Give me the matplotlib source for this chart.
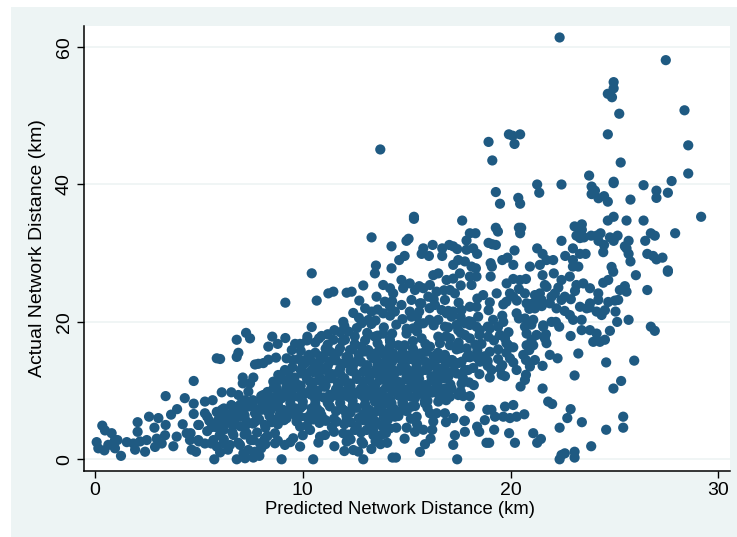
# predicted vs actual network distance
import numpy as np
import matplotlib
matplotlib.use('Agg')
import matplotlib.pyplot as plt

plt.rcParams['font.family'] = ['Liberation Sans', 'DejaVu Sans']

# upper right, sparse part
pred_top = [22.36, 27.47, 24.96, 24.96, 24.68, 24.88, 25.23, 28.37, 24.68, 28.55, 25.3, 28.55, 27.75, 18.94, 19.92, 20.1, 20.46, 20.19, 19.12, 13.73,
            23.78, 23.9, 24.06, 23.9, 24.23, 24.5, 24.68, 24.96, 24.96, 25.77, 26.4, 27.02, 27.02, 27.57, 29.17, 22.45, 21.28, 21.38, 19.29, 19.49,
            20.37, 20.46, 15.35, 15.35, 17.67, 13.31, 14.27, 14.99, 15.09, 19.29, 19.39, 20.51, 20.4, 20.46, 18.04, 18.31, 17.88, 18.94, 19.12, 19.29,
            20.19, 21.28, 22.45, 23.08, 23.43, 23.43, 23.17, 23.34, 23.53, 23.88, 24.14, 24.33, 24.23, 24.5, 24.46, 24.68, 24.96, 25.58, 26.4, 26.75,
            26.94, 27.92, 26.48, 24.78, 25.15, 24.96, 25.68, 25.5, 25.58, 25.68, 25.77, 26.58, 26.86, 27.02, 27.31, 27.57, 23.0, 22.63, 23.0, 23.34,
            23.61, 23.0, 23.26, 24.86, 22.05, 21.73, 21.54, 21.41, 20.93, 20.13, 19.85, 19.6, 19.04, 19.1, 18.39, 18.2, 17.88, 17.8, 17.48, 17.24,
            18.12, 18.33, 17.05, 17.24, 17.43, 16.71, 16.71, 16.25, 15.8, 15.72, 16.07, 14.9, 14.64, 14.27, 13.52]
actual_top = [61.4, 58.1, 54.9, 54.0, 53.2, 52.7, 50.3, 50.8, 47.3, 45.7, 43.2, 41.6, 40.5, 46.2, 47.3, 47.1, 47.3, 45.9, 43.5, 45.1,
              41.3, 39.7, 39.1, 38.6, 38.0, 38.3, 37.5, 40.4, 40.2, 37.8, 39.9, 39.1, 38.05, 38.8, 35.3, 40.0, 40.0, 38.8, 38.9, 37.2,
              38.05, 37.2, 35.3, 35.0, 34.75, 32.3, 31.0, 31.8, 32.1, 33.7, 33.15, 33.7, 33.7, 32.9, 32.9, 32.9, 31.85, 31.5, 31.3, 31.2,
              30.4, 30.7, 31.8, 33.9, 34.2, 33.4, 32.55, 32.2, 32.3, 32.55, 32.55, 32.9, 31.8, 31.2, 30.15, 34.75, 35.3, 34.75, 34.75, 32.9,
              32.55, 32.9, 31.8, 32.3, 32.55, 31.8, 31.8, 31.0, 30.7, 29.9, 28.8, 29.9, 29.6, 29.1, 29.35, 27.5, 30.7, 29.6, 29.0, 29.9,
              29.9, 28.05, 28.05, 28.0, 29.0, 29.0, 29.9, 28.3, 28.05, 28.3, 29.35, 29.0, 28.55, 28.05, 29.9, 30.7, 30.5, 28.8, 29.0, 28.3,
              28.05, 27.8, 31.2, 31.0, 30.6, 30.7, 29.6, 31.2, 30.7, 29.9, 29.6, 29.6, 29.0, 27.8, 28.2]

# lower right
pred_right = [16.28, 16.52, 17.56, 18.04, 18.36, 19.04, 20.13, 20.45, 20.74, 21.54, 22.08, 22.45, 22.85, 23.17, 23.5, 23.82, 24.7, 24.46, 24.94, 26.03,
              27.57, 26.58, 25.5, 25.26, 25.58, 25.18, 25.02, 25.05, 25.13, 25.68, 26.75, 26.94, 24.78, 24.22, 24.22, 23.82, 23.34, 23.66, 24.14, 24.38,
              24.54, 22.85, 23.01, 23.42, 23.42, 23.82, 24.14, 23.98, 24.54, 24.3, 22.89, 23.26, 24.6, 25.95, 25.32, 24.95, 23.08, 21.54, 21.81, 22.0,
              22.89, 22.73, 23.43, 22.36, 24.6, 25.42, 25.42, 23.88, 23.08, 23.08, 22.61, 22.45, 22.36, 21.09, 21.46, 21.28, 20.21, 19.93, 19.21, 18.84,
              18.97, 18.49, 18.39, 18.76, 18.88, 19.08, 19.25, 19.65, 19.73, 20.13, 19.97, 20.29, 20.66, 18.04, 17.8, 17.8, 17.32, 17.24, 17.43, 16.15,
              15.88, 15.64, 14.9, 14.32, 14.48, 13.74, 14.06, 15.0, 15.4, 15.8, 16.23, 16.89, 17.24, 17.77, 15.48, 16.12, 16.44, 16.84, 16.28, 18.04,
              17.72, 18.23, 17.64, 17.16, 16.52, 15.88, 15.4, 14.83, 19.0, 19.57, 19.73, 20.29, 20.74, 20.69, 20.48, 19.6, 19.08, 19.97, 20.13, 20.61,
              20.74, 21.17, 20.93, 21.54, 21.89, 22.26, 20.13, 19.89, 20.77, 21.09, 21.01, 21.73, 21.25, 21.65, 21.57, 20.77, 20.69, 20.29, 20.69, 21.09,
              21.57, 21.97, 22.18, 22.34, 19.65, 19.16, 19.0, 19.4, 19.49, 18.92, 19.73, 18.44, 18.12, 18.04, 18.36, 18.52, 17.8, 17.48, 18.04, 18.6,
              19.0, 19.4, 18.76, 18.36, 17.88, 17.56, 18.04, 17.24, 17.64, 18.52, 17.96]
actual_right = [26.8, 27.06, 27.06, 26.6, 26.6, 26.6, 26.25, 26.1, 26.25, 26.8, 27.06, 26.1, 26.6, 25.37, 25.6, 24.9, 26.1, 25.7, 27.3, 26.8,
                27.3, 24.64, 25.2, 24.64, 24.4, 23.2, 23.1, 21.5, 20.0, 20.3, 19.3, 18.7, 18.7, 24.15, 23.2, 22.7, 22.2, 21.97, 21.5, 21.0,
                21.7, 21.0, 20.3, 20.3, 18.8, 18.8, 18.3, 17.1, 17.4, 17.1, 17.95, 15.4, 14.1, 14.36, 11.4, 10.3, 12.2, 10.3, 8.4, 8.05,
                7.3, 6.0, 5.4, 4.6, 4.3, 4.6, 6.2, 1.9, 1.1, 0.25, 0.87, 0.63, 0.0, 3.8, 2.96, 2.4, 2.4, 3.8, 4.3, 2.4,
                2.4, 4.0, 4.75, 5.7, 7.2, 7.2, 6.2, 6.2, 7.67, 7.9, 6.0, 6.2, 6.55, 7.67, 5.6, 4.0, 3.5, 2.1, 0.0, 3.0,
                2.2, 1.07, 3.0, 0.25, 0.25, 2.2, 2.4, 4.6, 4.0, 4.3, 4.3, 5.4, 6.0, 5.6, 6.2, 6.7, 6.7, 6.7, 5.5, 9.2,
                9.2, 10.8, 11.0, 10.3, 9.5, 8.5, 7.75, 8.9, 11.9, 12.3, 12.1, 13.0, 12.3, 11.55, 10.6, 13.7, 13.0, 14.7, 14.1, 15.2,
                14.45, 14.45, 13.5, 13.6, 15.2, 14.7, 16.3, 16.6, 16.6, 16.6, 17.4, 16.9, 18.1, 17.6, 19.3, 18.3, 19.3, 21.25, 20.5, 20.3,
                19.5, 20.0, 20.0, 19.3, 20.0, 20.3, 19.05, 19.3, 18.1, 17.85, 17.6, 20.76, 20.0, 19.55, 19.3, 18.8, 18.1, 18.8, 17.6, 16.8,
                15.65, 16.0, 15.0, 14.85, 16.15, 16.15, 14.85, 14.0, 14.2, 14.2, 13.0]

# band above the middle, 13 to 23 km
pred_band = [18.68, 19.33, 19.0, 18.94, 19.65, 19.97, 20.13, 19.8, 20.69, 20.77, 21.17, 21.17, 21.49, 21.73, 21.97, 22.21, 22.61, 21.65, 19.81, 21.25,
             21.57, 21.89, 22.13, 21.41, 22.45, 18.12, 17.24, 16.92, 17.32, 17.08, 16.84, 16.44, 16.12, 15.8, 15.4, 15.15, 14.75, 14.83, 15.23, 13.87,
             14.35, 13.55, 13.95, 13.47, 13.31, 13.87, 14.43, 14.75, 15.15, 15.64, 16.04, 16.36, 16.68, 16.52, 16.92, 17.24, 17.64, 18.04, 18.36, 17.16,
             17.4, 16.84, 16.52, 17.08, 17.08, 16.6, 16.12, 15.72, 15.56, 15.8, 15.23, 15.31, 14.99, 14.59, 14.19, 13.87, 13.47, 14.19, 13.71]
actual_band = [23.9, 24.15, 22.85, 21.7, 22.55, 24.15, 23.67, 22.94, 24.15, 22.7, 23.9, 21.97, 23.2, 25.1, 23.67, 21.97, 23.67, 25.37, 25.6, 23.2,
               22.7, 22.7, 24.15, 24.15, 23.2, 25.37, 26.3, 26.1, 24.15, 24.64, 23.2, 24.4, 25.37, 24.9, 24.64, 25.6, 26.1, 24.9, 23.2, 25.37,
               24.15, 23.67, 22.94, 27.06, 21.5, 21.25, 21.5, 22.46, 21.5, 22.7, 23.67, 22.46, 21.73, 20.3, 21.25, 21.5, 21.73, 22.2, 22.2, 20.76,
               19.55, 19.3, 17.85, 17.6, 16.6, 16.9, 16.4, 17.6, 19.55, 19.8, 20.76, 19.06, 18.3, 16.6, 16.4, 18.3, 17.85, 17.4, 16.15]

# middle blob, right of 13 km
pred_mid = [13.31, 13.55, 14.03, 14.35, 14.67, 14.99, 15.31, 15.64, 15.96, 16.52, 16.84, 17.16, 17.48, 17.8, 16.84, 16.36, 15.96, 15.48, 15.07, 14.75,
            14.35, 13.95, 13.55, 13.23, 13.71, 14.19, 14.59, 14.99, 15.31, 16.2, 16.6, 17.0, 17.4, 16.44, 16.12, 15.64, 16.84, 14.99, 14.59, 14.19,
            13.79, 13.39, 13.47, 13.87, 14.27, 14.83, 15.23, 15.88, 16.52, 17.08, 17.48, 13.39, 13.87, 14.43, 13.47, 13.87, 14.19, 13.79, 13.39, 14.03]
actual_mid = [15.4, 14.45, 14.94, 15.4, 14.7, 14.45, 14.94, 15.4, 15.67, 15.4, 15.2, 14.45, 14.0, 13.0, 13.5, 13.7, 13.2, 13.5, 13.0, 13.5,
              13.0, 13.0, 12.5, 12.0, 11.55, 11.55, 11.3, 11.8, 12.0, 12.0, 12.0, 12.0, 12.5, 10.6, 10.1, 10.8, 10.3, 10.1, 9.85, 10.6,
              9.85, 10.1, 8.4, 8.65, 8.15, 8.15, 7.66, 8.15, 8.4, 9.1, 9.35, 6.7, 6.7, 6.2, 5.2, 4.75, 4.5, 3.55, 4.25, 5.7]

# middle blob, left of 13 km
pred_left = [13.0, 12.83, 13.15, 12.19, 12.03, 11.47, 11.31, 11.79, 12.27, 12.83, 13.15, 13.15, 12.67, 12.11, 11.47, 10.83, 10.11, 9.54, 9.22, 9.47,
             9.14, 8.82, 8.58, 9.38, 9.95, 10.43, 10.91, 11.23, 11.79, 12.43, 13.07, 12.91, 12.27, 11.71, 11.07, 10.35, 9.79, 9.22, 8.74, 8.1,
             8.02, 8.5, 8.98, 9.54, 10.11, 10.67, 11.31, 11.95, 12.59, 13.15, 13.0, 12.43, 11.87, 10.83, 10.43, 9.63, 9.07, 8.42, 7.86, 7.22,
             6.9, 7.38, 7.3, 6.66, 6.98, 6.42, 5.94, 6.18, 6.66, 7.22, 7.7, 8.18, 8.66, 9.22, 9.87, 10.51, 11.07, 11.63, 12.11, 12.75,
             13.15, 13.07, 12.51, 11.95, 12.83, 12.11, 12.67, 11.07, 10.83, 10.75, 10.35, 9.87, 9.54, 9.14, 8.66, 8.66, 8.18, 7.94, 7.62, 7.38,
             7.14, 6.98, 6.5, 6.18, 5.7, 6.66, 7.3, 6.18]
actual_left = [21.97, 19.8, 20.27, 18.6, 17.4, 17.4, 15.67, 16.15, 15.9, 16.4, 18.1, 15.9, 14.45, 13.97, 14.45, 14.45, 14.45, 14.45, 14.7, 15.9,
               13.0, 12.27, 11.3, 12.0, 12.5, 13.0, 13.24, 11.79, 12.5, 12.76, 13.0, 11.3, 11.05, 10.8, 10.57, 11.3, 10.8, 10.57, 10.33, 9.36,
               8.4, 8.6, 8.88, 9.12, 9.6, 9.36, 8.88, 9.36, 9.6, 9.85, 7.9, 7.67, 7.42, 6.94, 7.42, 7.42, 7.18, 6.94, 7.18, 8.6,
               9.36, 9.85, 7.66, 7.66, 6.2, 6.2, 5.73, 4.27, 5.0, 4.75, 5.48, 5.0, 5.73, 5.97, 6.2, 5.97, 5.73, 5.48, 5.73, 5.97,
               6.45, 4.27, 4.27, 3.78, 2.57, 2.57, 1.12, 3.54, 3.3, 2.43, 4.27, 4.75, 3.06, 2.09, 2.33, 3.79, 3.06, 2.33, 2.8, 1.36,
               0.87, 2.09, 2.09, 2.33, 2.8, 3.54, 3.78, 5.48]

# lower left edge of the cloud
pred_low = [0.08, 0.35, 0.48, 0.16, 0.45, 0.64, 0.8, 0.96, 1.08, 0.96, 1.25, 1.53, 1.85, 1.93, 2.05, 2.05, 2.17, 2.41, 2.49, 2.6,
            2.86, 3.05, 2.89, 2.97, 3.21, 3.37, 3.4, 3.4, 3.66, 3.95, 3.77, 3.93, 4.22, 4.32, 4.75, 4.41, 4.57, 4.65, 4.86, 4.75,
            4.75, 4.97, 4.97, 5.29, 5.29, 5.66, 5.29, 5.74, 5.62, 5.86, 5.86, 6.02, 6.1, 6.1, 6.02, 5.86, 6.56, 6.56, 6.82, 6.82,
            7.27, 7.46, 6.9, 6.82, 7.11, 7.11, 7.62, 7.46, 7.22, 7.62, 7.91, 7.7, 7.86, 8.1, 8.34, 8.71, 8.34, 8.53, 8.79, 9.16,
            9.16, 8.98, 9.87, 10.5, 9.63, 9.87, 10.22, 10.43, 10.2, 10.67, 10.43, 10.78, 10.9, 11.23, 11.47, 12.11, 12.35, 12.72, 12.91, 11.95,
            12.43, 11.52, 11.52, 12.43, 12.91]
actual_low = [2.5, 4.9, 4.2, 1.6, 1.3, 2.1, 3.8, 2.8, 2.8, 1.6, 0.5, 2.5, 2.3, 1.4, 4.0, 5.4, 2.6, 1.1, 2.8, 6.2,
              4.6, 6.0, 1.8, 3.0, 2.3, 3.5, 5.0, 9.2, 6.5, 7.3, 1.9, 3.3, 5.1, 8.9, 11.4, 3.8, 2.8, 1.4, 1.1, 8.1,
              6.6, 5.0, 2.8, 8.4, 6.7, 8.6, 2.3, 0.0, 4.7, 6.9, 14.7, 14.6, 9.75, 7.2, 1.0, 1.85, 9.75, 7.9, 0.0, 17.4,
              18.4, 17.6, 15.5, 14.9, 11.9, 11.05, 11.9, 11.05, 0.15, 0.25, 0.5, 13.8, 13.9, 14.0, 14.5, 14.8, 16.4, 17.85, 16.8, 17.65,
              22.8, 0.0, 1.85, 0.0, 16.8, 16.8, 17.85, 19.25, 17.3, 23.1, 27.07, 17.6, 17.95, 24.15, 24.4, 24.25, 24.4, 23.1, 25.3, 20.0,
              21.3, 1.9, 18.8, 1.35, 0.0]

# the packed centre, where single dots can only be estimated
pred_fill = [14.2, 15.6, 16.8, 17.6, 20.4, 22.3, 23.1,
             14.3, 15.7, 16.3, 17.5, 18.4, 20.3, 21.0, 22.9, 24.7,
             13.6, 14.2, 15.6, 16.1, 17.0, 20.9, 21.5, 22.6, 23.8,
             12.7, 13.5, 14.2, 14.8, 15.5, 16.1, 17.6, 18.0, 19.6, 20.4,
             12.0, 12.6, 13.3, 13.9, 14.5, 15.0, 16.3, 17.0, 17.8, 18.9, 21.0,
             11.2, 11.8, 12.5, 13.1, 13.6, 14.3, 15.5, 16.9, 17.6, 18.5, 19.9, 21.7,
             10.6, 11.2, 11.9, 12.5, 13.0, 13.6, 14.2, 14.9, 15.3, 15.9, 17.5, 18.3, 19.2, 19.8,
             9.9, 10.6, 11.1, 11.7, 12.4, 13.0, 13.5, 14.1, 14.8, 15.3, 15.9, 16.5, 17.4, 18.4, 19.8, 20.9,
             9.8, 10.4, 11.0, 11.6, 12.2, 12.8, 13.4, 14.0, 14.6, 15.3, 15.9, 16.6, 17.2, 17.9, 18.9, 19.4,
             9.5, 10.0, 10.6, 11.2, 11.8, 12.4, 13.0, 13.6, 14.2, 14.9, 15.5, 16.1, 16.7, 17.3, 18.2, 18.9, 19.5,
             8.9, 9.6, 10.2, 10.8, 11.4, 12.0, 12.6, 13.2, 13.8, 14.4, 15.0, 15.6, 16.2, 16.9, 17.7, 18.5,
             8.7, 9.3, 9.9, 10.5, 11.1, 11.7, 12.3, 12.9, 13.5, 14.1, 14.7, 15.3, 15.9, 16.5, 17.1, 18.0,
             8.3, 8.9, 9.5, 10.1, 10.7, 11.3, 11.9, 12.5, 13.1, 13.7, 14.3, 14.9, 15.5, 16.2, 16.8, 17.6,
             7.6, 8.2, 8.8, 9.4, 10.0, 10.6, 11.2, 11.8, 12.4, 13.0, 13.6, 14.2, 14.8, 15.4, 16.0, 16.9,
             6.2, 6.8, 7.4, 8.0, 8.6, 9.2, 9.9, 10.7, 11.3, 12.0, 12.6, 13.2, 13.8, 14.4, 15.0, 16.0,
             5.4, 6.0, 6.6, 7.2, 7.8, 8.4, 9.0, 9.6, 10.2, 10.9, 11.5, 12.1, 12.7, 13.3, 13.9, 14.6, 15.2,
             5.0, 5.8, 6.4, 7.0, 7.6, 8.2, 8.8, 10.2, 10.8, 11.4, 12.0, 12.6, 13.2, 13.8, 14.5, 15.5,
             4.6, 5.4, 6.0, 6.6, 7.2, 7.8, 8.3, 10.0, 11.5, 12.2, 12.8, 13.4, 14.0,
             5.0, 5.6, 6.2, 6.9, 7.5, 8.2, 8.8, 9.4, 12.3, 12.9, 13.5,
             6.4, 7.7, 8.0, 12.0, 13.3]
actual_fill = [24.9, 25.2, 24.6, 25.3, 24.8, 25.0, 24.5,
               23.0, 22.7, 23.3, 22.8, 23.4, 23.1, 22.6, 23.3, 22.9,
               21.8, 22.2, 21.5, 22.0, 21.6, 21.9, 22.3, 21.6, 22.1,
               20.6, 20.2, 20.9, 20.4, 20.8, 20.3, 20.7, 20.1, 20.9, 20.5,
               19.4, 19.1, 19.7, 19.2, 19.6, 19.0, 19.5, 19.2, 19.8, 19.3, 19.6,
               18.2, 18.5, 17.9, 18.4, 18.0, 18.3, 18.6, 17.9, 18.4, 18.1, 18.5, 18.2,
               17.0, 16.7, 17.2, 16.8, 17.3, 16.9, 17.1, 16.6, 17.2, 16.8, 17.0, 16.7, 17.3, 16.9,
               15.8, 15.5, 16.1, 15.6, 16.0, 15.7, 15.4, 15.9, 15.6, 16.1, 15.7, 15.5, 16.0, 15.8, 15.5, 15.9,
               14.6, 14.3, 14.9, 14.4, 14.8, 14.2, 14.7, 14.3, 14.8, 14.5, 14.2, 14.7, 14.4, 14.9, 14.3, 14.6,
               13.4, 13.7, 13.1, 13.6, 13.2, 13.5, 13.0, 13.7, 13.3, 13.6, 13.1, 13.5, 13.2, 13.7, 13.3, 13.6, 13.2,
               12.2, 11.9, 12.5, 12.0, 12.4, 11.8, 12.3, 12.6, 12.0, 12.4, 11.9, 12.5, 12.1, 12.3, 11.9, 12.4,
               11.0, 11.3, 10.7, 11.2, 10.8, 11.1, 10.6, 11.3, 10.9, 11.2, 10.7, 11.1, 10.8, 11.3, 10.9, 11.2,
               9.8, 9.5, 10.1, 9.6, 10.0, 9.4, 9.9, 9.7, 10.1, 9.5, 9.9, 9.6, 10.0, 9.7, 9.4, 9.9,
               8.6, 8.9, 8.3, 8.8, 8.4, 8.7, 8.2, 8.9, 8.5, 8.8, 8.3, 8.7, 8.4, 8.9, 8.5, 8.6,
               7.4, 7.1, 7.7, 7.2, 7.6, 7.0, 7.5, 7.3, 7.7, 7.1, 7.5, 7.2, 7.6, 7.3, 7.0, 7.5,
               6.2, 6.5, 5.9, 6.4, 6.0, 6.3, 5.8, 6.5, 6.1, 6.4, 5.9, 6.3, 6.0, 6.5, 6.1, 6.3, 5.9,
               5.0, 4.7, 5.3, 4.8, 5.2, 4.6, 5.1, 4.9, 5.3, 4.7, 5.1, 4.8, 5.2, 4.9, 4.6, 5.1,
               3.8, 4.1, 3.5, 4.0, 3.6, 3.9, 3.4, 3.5, 4.0, 3.6, 3.9, 3.5, 3.8,
               2.6, 2.3, 2.9, 2.4, 2.8, 2.2, 2.7, 2.5, 2.9, 2.3, 2.6,
               1.4, 1.1, 1.6, 1.2, 1.5]

# more of the same centre, between the rows above
pred_core = [10.3, 10.9, 11.5, 12.1, 12.7, 13.3, 13.9, 14.5, 15.1, 15.7, 16.3, 18.0,
             10.1, 10.7, 11.3, 11.9, 12.5, 13.1, 13.7, 14.3, 14.9, 15.5, 16.1, 16.9,
             9.3, 9.9, 10.5, 11.1, 11.7, 12.3, 12.9, 13.5, 14.1, 14.7, 15.3, 15.9, 16.5, 17.1,
             9.0, 9.6, 10.2, 10.8, 11.4, 12.0, 12.6, 13.2, 13.8, 14.4, 15.0, 15.6, 16.2, 16.8,
             8.6, 9.2, 9.8, 10.4, 11.0, 11.6, 12.2, 12.8, 13.4, 14.0, 14.6, 15.2, 15.8, 16.5,
             8.0, 8.6, 9.2, 9.8, 10.4, 11.0, 11.6, 12.2, 12.8, 13.4, 14.0, 14.6, 15.2, 15.8,
             7.0, 7.6, 8.2, 8.8, 9.4, 10.0, 10.6, 11.8, 12.4, 13.0, 13.6, 14.2, 14.8,
             5.9, 6.5, 7.1, 7.7, 8.3, 8.9, 9.5, 10.4, 11.6, 12.3, 12.9, 13.5, 14.1, 14.7,
             5.5, 6.1, 6.7, 7.3, 7.9, 8.5, 9.1, 9.7, 10.5, 11.1, 12.3, 12.9, 13.5, 14.1]
actual_core = [15.2, 15.0, 15.3, 14.9, 15.2, 15.0, 15.3, 14.9, 15.1, 15.3, 15.0, 15.2,
               14.0, 13.8, 14.2, 13.9, 14.1, 13.7, 14.0, 14.2, 13.8, 14.1, 13.9, 14.2,
               12.8, 13.0, 12.7, 13.0, 12.6, 12.9, 12.7, 13.0, 12.6, 12.9, 12.7, 13.0, 12.8, 12.6,
               11.6, 11.4, 11.7, 11.5, 11.8, 11.4, 11.7, 11.5, 11.8, 11.4, 11.6, 11.7, 11.5, 11.8,
               10.4, 10.2, 10.5, 10.3, 10.6, 10.2, 10.5, 10.3, 10.6, 10.4, 10.2, 10.5, 10.3, 10.6,
               9.2, 9.0, 9.3, 9.1, 9.4, 9.0, 9.3, 9.1, 9.4, 9.2, 9.0, 9.3, 9.1, 9.4,
               8.0, 7.8, 8.1, 7.9, 8.2, 7.8, 8.1, 8.2, 7.8, 8.0, 8.2, 7.9, 8.1,
               6.8, 6.6, 6.9, 6.7, 7.0, 6.6, 6.9, 6.7, 7.0, 6.8, 6.6, 6.9, 6.7, 7.0,
               5.6, 5.4, 5.7, 5.5, 5.8, 5.4, 5.7, 5.5, 5.8, 5.6, 5.4, 5.7, 5.5, 5.8]

x_ticks = [0, 10, 20, 30]
y_ticks = [0, 20, 40, 60]

pred = np.concatenate([pred_top, pred_right, pred_band, pred_mid, pred_left, pred_low, pred_fill, pred_core])
actual = np.concatenate([actual_top, actual_right, actual_band, actual_mid, actual_left, actual_low, actual_fill, actual_core])

fig = plt.figure(figsize=(7.37, 5.37), dpi=100, facecolor='white')
# pale panel behind the plot, white strip left and on top
fig.patches.append(plt.Rectangle((11 / 737, 0), 726 / 737, 530 / 537, transform=fig.transFigure,
                                 facecolor='#edf4f4', edgecolor='none', figure=fig, zorder=-1))
ax = fig.add_axes([84 / 737, 1 - 470.7 / 537, 646 / 737, 444.7 / 537])
ax.scatter(pred, actual, s=54, color='#1f5a82', edgecolors='none', clip_on=False, zorder=3)

ax.set_xlim(-0.53, 30.56)
ax.set_ylim(-1.66, 63.07)
ax.set_xticks(x_ticks)
ax.set_yticks(y_ticks)
ax.grid(axis='y', color='#edf4f4', lw=1.2)
ax.set_axisbelow(True)
ax.spines['top'].set_visible(False)
ax.spines['right'].set_visible(False)
ax.spines['left'].set_linewidth(1.1)
ax.spines['bottom'].set_linewidth(1.1)
ax.tick_params(axis='both', length=5, width=1, labelsize=14, pad=3)
plt.setp(ax.get_yticklabels(), rotation=90, va='center')

fig.text(400 / 737, 1 - 510 / 537, 'Predicted Network Distance (km)', fontsize=13.3, ha='center', va='center')
fig.text(38 / 737, 1 - 248 / 537, 'Actual Network Distance (km)', fontsize=14, rotation=90, ha='center', va='center')

fig.savefig('out.png', dpi=100, facecolor=fig.get_facecolor())
